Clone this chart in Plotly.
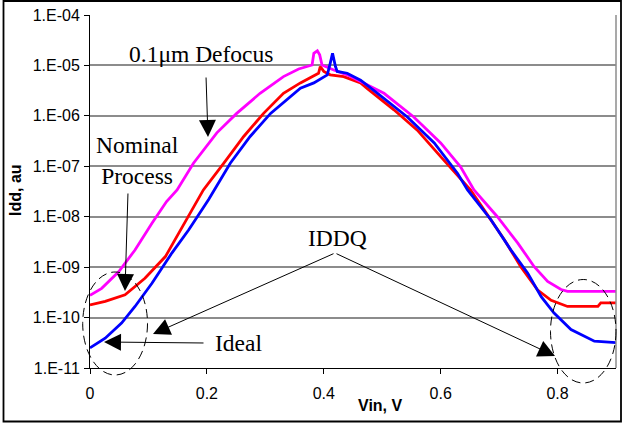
import plotly.graph_objects as go

# ---- data ----
vin_ideal = [0, 0.026, 0.054, 0.077, 0.106, 0.140, 0.169, 0.203, 0.240, 0.274, 0.309, 0.343,
             0.360, 0.383, 0.406, 0.411, 0.415, 0.420, 0.423, 0.440, 0.463, 0.492, 0.543, 0.589,
             0.629, 0.646, 0.686, 0.720, 0.749, 0.772, 0.794, 0.823, 0.863, 0.9]
idd_ideal = [2.5e-11, 3.9e-11, 7.8e-11, 1.66e-10, 4.8e-10, 1.9e-9, 5.5e-9, 2.2e-8, 1.15e-7, 3.9e-7,
             1.12e-6, 2.4e-6, 3.55e-6, 4.5e-6, 6.5e-6, 1.1e-5, 1.74e-5, 9.5e-6, 7.6e-6, 7.0e-6,
             5.1e-6, 2.8e-6, 9.5e-7, 2.9e-7, 7.2e-8, 3.4e-8, 8.7e-9, 2.2e-9, 7.6e-10, 2.6e-10,
             1.23e-10, 5.8e-11, 3.4e-11, 3.2e-11]

vin_nominal = [0, 0.026, 0.060, 0.094, 0.129, 0.166, 0.194, 0.229, 0.263, 0.297, 0.331, 0.360,
               0.380, 0.391, 0.394, 0.400, 0.411, 0.434, 0.463, 0.474, 0.520, 0.560, 0.600, 0.651,
               0.674, 0.709, 0.737, 0.766, 0.789, 0.817, 0.869, 0.874, 0.9]
idd_nominal = [1.78e-10, 2.09e-10, 2.82e-10, 6.0e-10, 1.62e-9, 9.3e-9, 3.4e-8, 1.15e-7, 3.9e-7,
               1.12e-6, 2.8e-6, 4.5e-6, 6.0e-6, 7.0e-6, 9.5e-6, 7.6e-6, 6.5e-6, 6.0e-6, 4.5e-6,
               3.5e-6, 1.32e-6, 5.2e-7, 1.55e-7, 3.4e-8, 1.38e-8, 3.5e-9, 1.02e-9, 3.5e-10, 2.2e-10,
               1.66e-10, 1.66e-10, 1.95e-10, 1.95e-10]

vin_defocus = [0, 0.020, 0.049, 0.077, 0.106, 0.131, 0.149, 0.177, 0.217, 0.251, 0.291, 0.331,
               0.357, 0.380, 0.383, 0.389, 0.393, 0.397, 0.417, 0.440, 0.463, 0.503, 0.554, 0.600,
               0.634, 0.657, 0.697, 0.732, 0.760, 0.783, 0.806, 0.817, 0.9]
idd_defocus = [2.75e-10, 3.8e-10, 8.1e-10, 2.19e-9, 7.4e-9, 2.0e-8, 3.4e-8, 1.15e-7, 4.6e-7,
               1.12e-6, 2.8e-6, 6.0e-6, 8.5e-6, 1.02e-5, 1.74e-5, 1.95e-5, 1.62e-5, 1.02e-5,
               8.1e-6, 6.5e-6, 4.8e-6, 2.8e-6, 9.5e-7, 2.9e-7, 9.8e-8, 3.4e-8, 1.0e-8, 3.0e-9,
               1.02e-9, 5.2e-10, 3.6e-10, 3.3e-10, 3.3e-10]

y_tickvals = [1e-11, 1e-10, 1e-9, 1e-8, 1e-7, 1e-6, 1e-5, 1e-4]
y_ticktext = ["1.E-11", "1.E-10", "1.E-09", "1.E-08", "1.E-07", "1.E-06", "1.E-05", "1.E-04"]
x_tickvals = [0, 0.2, 0.4, 0.6, 0.8]
x_ticktext = ["0", "0.2", "0.4", "0.6", "0.8"]

W, H = 624, 425
L, R, T, B = 90, 8, 15, 57
PW, PH = W - L - R, H - T - B


def px(xp):
    return (xp - L) / PW


def py(yp):
    return (H - B - yp) / PH


SANS = "Liberation Sans, Arial, sans-serif"
SERIF = "Liberation Serif, Times New Roman, serif"

fig = go.Figure()
fig.add_trace(go.Scatter(x=vin_nominal, y=idd_nominal, mode="lines",
                         line=dict(color="#ff0000", width=2.8), name="Nominal"))
fig.add_trace(go.Scatter(x=vin_defocus, y=idd_defocus, mode="lines",
                         line=dict(color="#ff00ff", width=2.8), name="Defocus"))
fig.add_trace(go.Scatter(x=vin_ideal, y=idd_ideal, mode="lines",
                         line=dict(color="#0000ff", width=2.8), name="Ideal"))

shapes = []
for yv in [1e-5, 1e-10]:
    shapes.append(dict(type="line", xref="paper", yref="y", x0=0, x1=1, y0=yv, y1=yv,
                       line=dict(color="black", width=1), layer="below"))
shapes.append(dict(type="line", xref="paper", yref="paper", x0=1, x1=1, y0=0, y1=1,
                   line=dict(color="#8c8c8c", width=1.5)))
shapes.append(dict(type="circle", xref="paper", yref="paper",
                   x0=px(82.7), x1=px(147.5), y0=py(375), y1=py(272),
                   line=dict(color="black", width=1, dash="9px,5px")))
shapes.append(dict(type="circle", xref="paper", yref="paper",
                   x0=px(550.5), x1=px(616), y0=py(383), y1=py(279.5),
                   line=dict(color="black", width=1, dash="9px,5px")))
shapes.append(dict(type="rect", xref="paper", yref="paper",
                   x0=px(3.5), x1=px(621), y0=py(421.5), y1=py(1),
                   line=dict(color="black", width=1.8)))

annotations = []


def label(text, xp, yp, size=23.5, family=SERIF, angle=0):
    annotations.append(dict(text=text, xref="paper", yref="paper",
                            x=px(xp), y=py(yp), xanchor="center", yanchor="middle",
                            showarrow=False, textangle=angle,
                            font=dict(family=family, size=size, color="black")))


label("0.1\u03bcm Defocus", 201, 54)
label("Nominal<br>Process", 137, 160)
label("IDDQ", 337, 238)
label("Ideal", 238, 343)
label("<b>Vin, V</b>", 380, 405, size=16, family=SANS)
label("<b>Idd, au</b>", 15, 190, size=16, family=SANS, angle=-90)

# arrows: (tip_x, tip_y, tail_x, tail_y) in pixels
arrows = [
    (208, 137, 206, 76),
    (125, 291, 128, 192),
    (153, 334, 335, 253),
    (555, 356, 335, 253),
    (104, 342, 205, 343),
]
for tx, ty, sx, sy in arrows:
    annotations.append(dict(text="", xref="paper", yref="paper", x=px(tx), y=py(ty),
                            axref="pixel", ayref="pixel", ax=sx - tx, ay=sy - ty,
                            showarrow=True, arrowhead=2, arrowsize=3.4, arrowwidth=1,
                            arrowcolor="black"))

fig.update_layout(
    width=W, height=H,
    margin=dict(l=L, r=R, t=T, b=B, pad=0),
    paper_bgcolor="white", plot_bgcolor="white",
    showlegend=False,
    shapes=shapes, annotations=annotations,
    xaxis=dict(range=[0, 0.9], tickvals=x_tickvals, ticktext=x_ticktext,
               showgrid=False, zeroline=False, showline=True, linecolor="black", linewidth=1,
               ticks="outside", ticklen=5, tickcolor="black", ticklabelstandoff=6,
               tickfont=dict(family=SANS, size=16, color="black")),
    yaxis=dict(type="log", range=[-11, -4], tickvals=y_tickvals, ticktext=y_ticktext,
               showgrid=True, gridcolor="#8c8c8c", gridwidth=1.5, zeroline=False,
               showline=True, linecolor="black", linewidth=1,
               ticks="outside", ticklen=5, tickcolor="black", ticklabelstandoff=1,
               tickfont=dict(family=SANS, size=16, color="black")),
)

fig.write_html("out.html", config={"displayModeBar": False},
               post_script="document.body.style.margin='0px';")
